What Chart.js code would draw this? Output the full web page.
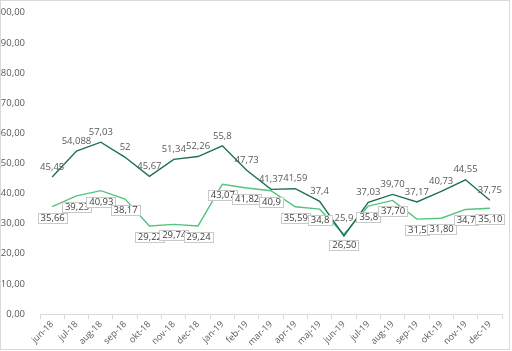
<!DOCTYPE html>
<html>
<head>
<meta charset="utf-8">
<script src="https://cdn.jsdelivr.net/npm/chart.js@4"></script>
<style>
  html, body { margin: 0; padding: 0; background: #fff; }
  #frame { position: absolute; left: 0; top: 0; width: 510px; height: 350px; box-sizing: border-box; border: 1px solid #d9d9d9; }
  #chart { position: absolute; left: 0; top: 0; }
</style>
</head>
<body>
<div id="frame"></div>
<canvas id="chart" width="512" height="351"></canvas>
<script>
// months on the x axis
const months = ['jun-18', 'jul-18', 'aug-18', 'sep-18', 'okt-18', 'nov-18', 'dec-18',
  'jan-19', 'feb-19', 'mar-19', 'apr-19', 'maj-19', 'jun-19', 'jul-19', 'aug-19',
  'sep-19', 'okt-19', 'nov-19', 'dec-19'];

// upper (dark) series
const darkValues = [45.45, 54.088, 57.03, 52, 45.67, 51.34, 52.26, 55.8, 47.73, 41.37,
  41.59, 37.4, 25.9, 37.03, 39.70, 37.17, 40.73, 44.55, 37.75];
const darkLabels = ['45,45', '54,088', '57,03', '52', '45,67', '51,34', '52,26', '55,8', '47,73', '41,37',
  '41,59', '37,4', '25,9', '37,03', '39,70', '37,17', '40,73', '44,55', '37,75'];

// lower (light) series
const lightValues = [35.66, 39.23, 40.93, 38.17, 29.22, 29.74, 29.24, 43.07, 41.82, 40.9,
  35.59, 34.8, 26.50, 35.8, 37.70, 31.5, 31.80, 34.7, 35.10];
const lightLabels = ['35,66', '39,23', '40,93', '38,17', '29,22', '29,74', '29,24', '43,07', '41,82', '40,9',
  '35,59', '34,8', '26,50', '35,8', '37,70', '31,5', '31,80', '34,7', '35,10'];

const yTicks = { min: 0, max: 100, step: 10 };

const FONT = '"Open Sans", sans-serif';
const TEXT = '#595959';

// value labels: plain text above for the dark line, boxed below for the light line
const pointLabels = {
  id: 'pointLabels',
  afterDatasetsDraw(chart) {
    const ctx = chart.ctx;
    ctx.save();
    ctx.font = '9.5px ' + FONT;
    ctx.textAlign = 'center';
    ctx.textBaseline = 'middle';
    chart.data.datasets.forEach((ds, di) => {
      const meta = chart.getDatasetMeta(di);
      meta.data.forEach((pt, i) => {
        const text = ds.pointText[i];
        if (ds.boxed) {
          const w = Math.round(ctx.measureText(text).width + 5);
          const h = 10;
          const cy = Math.round(pt.y + 11);
          const x0 = Math.round(pt.x - w / 2);
          ctx.fillStyle = '#fff';
          ctx.fillRect(x0, cy - h / 2, w, h);
          ctx.strokeStyle = '#c9c9c9';
          ctx.lineWidth = 1;
          ctx.strokeRect(x0 + 0.5, cy - h / 2 + 0.5, w, h);
          ctx.fillStyle = '#404040';
          ctx.fillText(text, pt.x + 0.5, cy + 0.5);
        } else {
          const lift = i === 12 ? 18 : 10;
          ctx.fillStyle = TEXT;
          ctx.fillText(text, pt.x, pt.y - lift);
        }
      });
    });
    ctx.restore();
  }
};

new Chart(document.getElementById('chart'), {
  type: 'line',
  data: {
    labels: months,
    datasets: [
      {
        data: darkValues,
        pointText: darkLabels,
        borderColor: '#1d6f55',
        borderWidth: 1.4,
        pointRadius: 0,
        tension: 0,
      },
      {
        data: lightValues,
        pointText: lightLabels,
        boxed: true,
        borderColor: '#52c47c',
        borderWidth: 1.4,
        pointRadius: 0,
        tension: 0,
      },
    ],
  },
  options: {
    responsive: false,
    animation: false,
    devicePixelRatio: 1,
    layout: { padding: { top: 8, right: 10, left: 0, bottom: 0 } },
    plugins: { legend: { display: false }, tooltip: { enabled: false } },
    scales: {
      x: {
        offset: true,
        grid: { display: true, drawOnChartArea: false, drawTicks: true, tickLength: 5, color: '#d9d9d9', offset: true },
        border: { color: '#d9d9d9' },
        ticks: { color: TEXT, font: { family: FONT, size: 9 }, minRotation: 45, maxRotation: 45, autoSkip: false, padding: 0 },
        afterFit: s => { s.height = 37; },
      },
      y: {
        min: yTicks.min,
        max: yTicks.max,
        grid: { display: false },
        border: { display: false },
        ticks: {
          stepSize: yTicks.step,
          color: TEXT,
          font: { family: FONT, size: 9.5 },
          padding: 7,
          callback: v => v.toFixed(2).replace('.', ','),
        },
        afterFit: s => { s.width = 40; },
      },
    },
  },
  plugins: [pointLabels],
});
</script>
</body>
</html>
